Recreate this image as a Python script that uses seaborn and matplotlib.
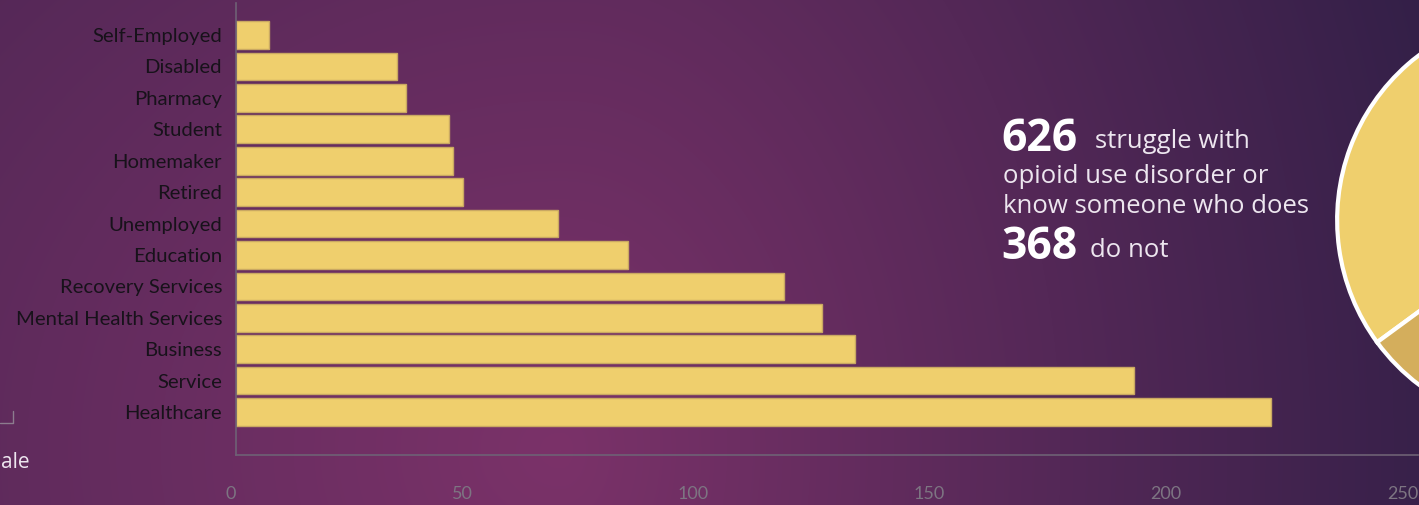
import matplotlib.pyplot as plt
import matplotlib.lines as mlines
import seaborn as sns
import pandas as pd
import numpy as np

occupations = ['Self-Employed', 'Disabled', 'Pharmacy', 'Student', 'Homemaker',
               'Retired', 'Unemployed', 'Education', 'Recovery Services',
               'Mental Health Services', 'Business', 'Service', 'Healthcare']
counts = [7, 34, 36, 45, 46, 48, 68, 83, 116, 124, 131, 190, 219]
x_ticks = [0, 50, 100, 150, 200, 250]

pie_labels = ['struggle or know someone', 'do not']
pie_values = [626, 368]

W, H = 1419, 505
BAR = '#EFCF6D'
BAR_EDGE = '#C9A862'
PIE_DARK = '#D4AE5C'

sns.set_theme(style='white')
plt.rcParams['font.family'] = ['Lato', 'DejaVu Sans']

fig = plt.figure(figsize=(W / 100, H / 100), dpi=100)

# purple gradient background, brightest low and left of centre
yy, xx = np.mgrid[0:H, 0:W]
sx = np.where(xx > 560, 1000.0, 1600.0)
t = np.sqrt(((xx - 560) / sx) ** 2 + ((yy - 450) / 1400) ** 2)
t = np.clip(t, 0, 1)[..., None]
light = np.array([0x7B, 0x32, 0x69]) / 255
dark = np.array([0x2D, 0x1E, 0x45]) / 255
img = light * (1 - t) + dark * t
bg = fig.add_axes([0, 0, 1, 1], zorder=-5)
bg.imshow(img, aspect='auto', extent=[0, 1, 0, 1])
bg.axis('off')

# bar chart
df = pd.DataFrame({'occupation': occupations, 'count': counts})
ax = fig.add_axes([236 / W, 50 / H, (1418 - 236) / W, (455 - 3) / H])
ax.patch.set_alpha(0)
sns.barplot(data=df, x='count', y='occupation', color=BAR, saturation=1,
            width=0.88, edgecolor=BAR_EDGE, linewidth=1, ax=ax)
ax.set_xlim(0, 250)
ax.set_ylim(13.37, -1.02)
ax.set_xticks(x_ticks)
ax.set_xticklabels([str(v) for v in x_ticks], ha='right')
ax.set_xlabel('')
ax.set_ylabel('')
for s in ['top', 'right']:
    ax.spines[s].set_visible(False)
for s in ['left', 'bottom']:
    ax.spines[s].set_color('#6E6175')
    ax.spines[s].set_linewidth(1.2)
ax.tick_params(axis='x', direction='in', length=12, width=1, color='#6E6175',
               labelsize=13, labelcolor='#7D7582', pad=22)
ax.tick_params(axis='y', length=0, labelsize=14.6, labelcolor='#17121A', pad=10)

# partial pie on the right edge
cx, cy, r = 1544, 220, 211
pax = fig.add_axes([(cx - r) / W, (H - cy - r) / H, 2 * r / W, 2 * r / H])
pax.pie(pie_values, colors=[BAR, PIE_DARK], startangle=-10.5, counterclock=True,
        wedgeprops=dict(edgecolor='white', linewidth=3))
pax.set_xlim(-1.02, 1.02)
pax.set_ylim(-1.02, 1.02)
pax.set_aspect('auto')
pax.axis('off')

# callout text
txt = '#EDE6EF'
fam = ['Open Sans', 'DejaVu Sans']
fig.text(1001 / W, 1 - 151 / H, str(pie_values[0]), fontsize=32, fontweight='bold',
         color='white', family=fam, va='baseline')
fig.text(1095 / W, 1 - 148 / H, 'struggle with', fontsize=18.5, color=txt,
         family=fam, va='baseline')
fig.text(1003 / W, 1 - 183 / H, 'opioid use disorder or', fontsize=18.5, color=txt,
         family=fam, va='baseline')
fig.text(1003 / W, 1 - 213 / H, 'know someone who does', fontsize=18.5, color=txt,
         family=fam, va='baseline')
fig.text(1001 / W, 1 - 259 / H, str(pie_values[1]), fontsize=32, fontweight='bold',
         color='white', family=fam, va='baseline')
fig.text(1090 / W, 1 - 257 / H, 'do not', fontsize=18.5, color=txt,
         family=fam, va='baseline')

# visible remains of the neighbouring chart at the left edge
fig.text(1 / W, 1 - 463 / H, 'ale', fontsize=15, color='#EDE6EF',
         ha='left', va='center', family=fam)
fig.add_artist(mlines.Line2D([0, 13 / W, 13 / W], [1 - 423 / H, 1 - 423 / H, 1 - 411 / H],
                             color='#8C7C8E', linewidth=1))

fig.savefig('out.png', dpi=100)
